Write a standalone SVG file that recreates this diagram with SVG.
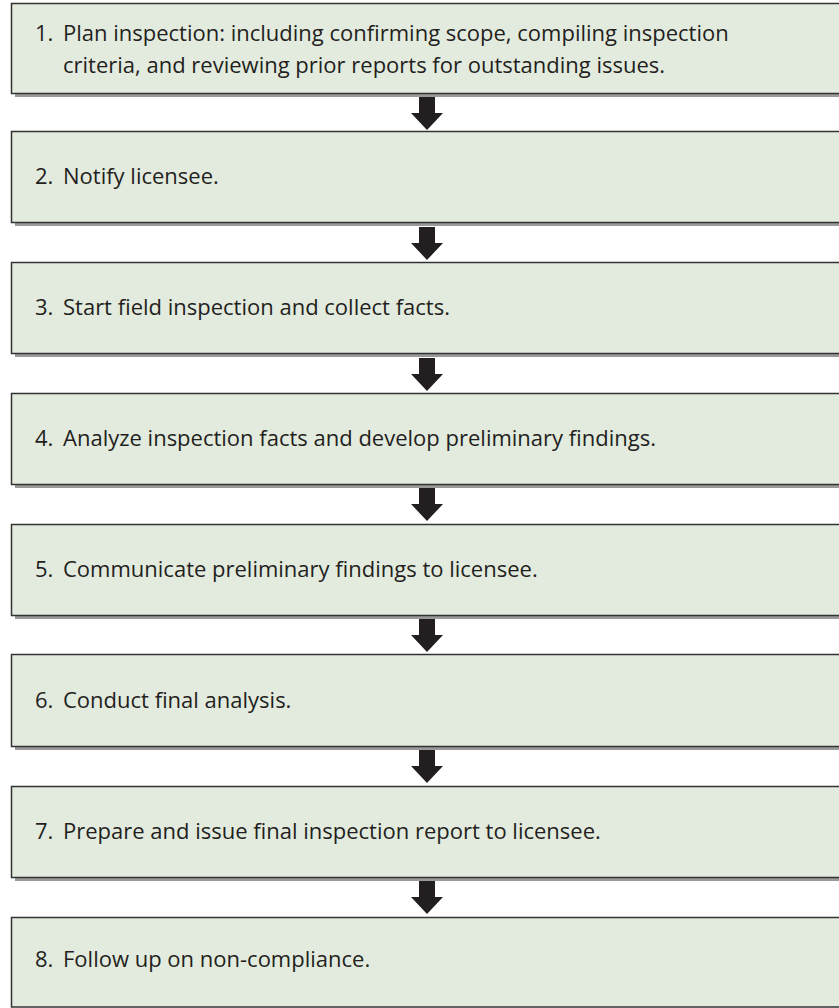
<svg xmlns="http://www.w3.org/2000/svg" width="839" height="1008" viewBox="0 0 839 1008">
<style>
.sh{fill:#9a9a9a}
.bx{fill:#e3ebdf;stroke:#333;stroke-width:1.5}
.t{font-family:"Open Sans","Liberation Sans",sans-serif;font-size:22px;fill:#231f20}
.ar{fill:#231f20}
</style>
<defs>
<path id="arrow" d="M-8,0 H8 V16 H16 L0,33 L-16,16 H-8 Z"/>
</defs>
<rect width="839" height="1008" fill="#fff"/>
<g id="connectors">
<use href="#arrow" class="ar" x="427" y="97"/>
<use href="#arrow" class="ar" x="427" y="227"/>
<use href="#arrow" class="ar" x="427" y="358"/>
<use href="#arrow" class="ar" x="427" y="488"/>
<use href="#arrow" class="ar" x="427" y="619"/>
<use href="#arrow" class="ar" x="427" y="750"/>
<use href="#arrow" class="ar" x="427" y="881"/>
</g>
<g id="node1">
<rect class="sh" x="15" y="7" width="840" height="90"/>
<rect class="bx" x="11.5" y="3.5" width="840" height="90"/>
<text class="t" x="35" y="41">1.</text>
<text class="t" x="63" y="41">Plan inspection: including confirming scope, compiling inspection</text>
<text class="t" x="63" y="73">criteria, and reviewing prior reports for outstanding issues.</text>
</g>
<g id="node2">
<rect class="sh" x="15" y="135" width="840" height="91"/>
<rect class="bx" x="11.5" y="131.5" width="840" height="91"/>
<text class="t" x="35" y="184">2.</text>
<text class="t" x="63" y="184">Notify licensee.</text>
</g>
<g id="node3">
<rect class="sh" x="15" y="266" width="840" height="91"/>
<rect class="bx" x="11.5" y="262.5" width="840" height="91"/>
<text class="t" x="35" y="315">3.</text>
<text class="t" x="63" y="315">Start field inspection and collect facts.</text>
</g>
<g id="node4">
<rect class="sh" x="15" y="397" width="840" height="91"/>
<rect class="bx" x="11.5" y="393.5" width="840" height="91"/>
<text class="t" x="35" y="446">4.</text>
<text class="t" x="63" y="446">Analyze inspection facts and develop preliminary findings.</text>
</g>
<g id="node5">
<rect class="sh" x="15" y="528" width="840" height="91"/>
<rect class="bx" x="11.5" y="524.5" width="840" height="91"/>
<text class="t" x="35" y="577">5.</text>
<text class="t" x="63" y="577">Communicate preliminary findings to licensee.</text>
</g>
<g id="node6">
<rect class="sh" x="15" y="658" width="840" height="92"/>
<rect class="bx" x="11.5" y="654.5" width="840" height="92"/>
<text class="t" x="35" y="708">6.</text>
<text class="t" x="63" y="708">Conduct final analysis.</text>
</g>
<g id="node7">
<rect class="sh" x="15" y="790" width="840" height="91"/>
<rect class="bx" x="11.5" y="786.5" width="840" height="91"/>
<text class="t" x="35" y="839">7.</text>
<text class="t" x="63" y="839">Prepare and issue final inspection report to licensee.</text>
</g>
<g id="node8">
<rect class="bx" x="11.5" y="917.5" width="840" height="89.5"/>
<text class="t" x="35" y="967">8.</text>
<text class="t" x="63" y="967">Follow up on non-compliance.</text>
</g>
</svg>
